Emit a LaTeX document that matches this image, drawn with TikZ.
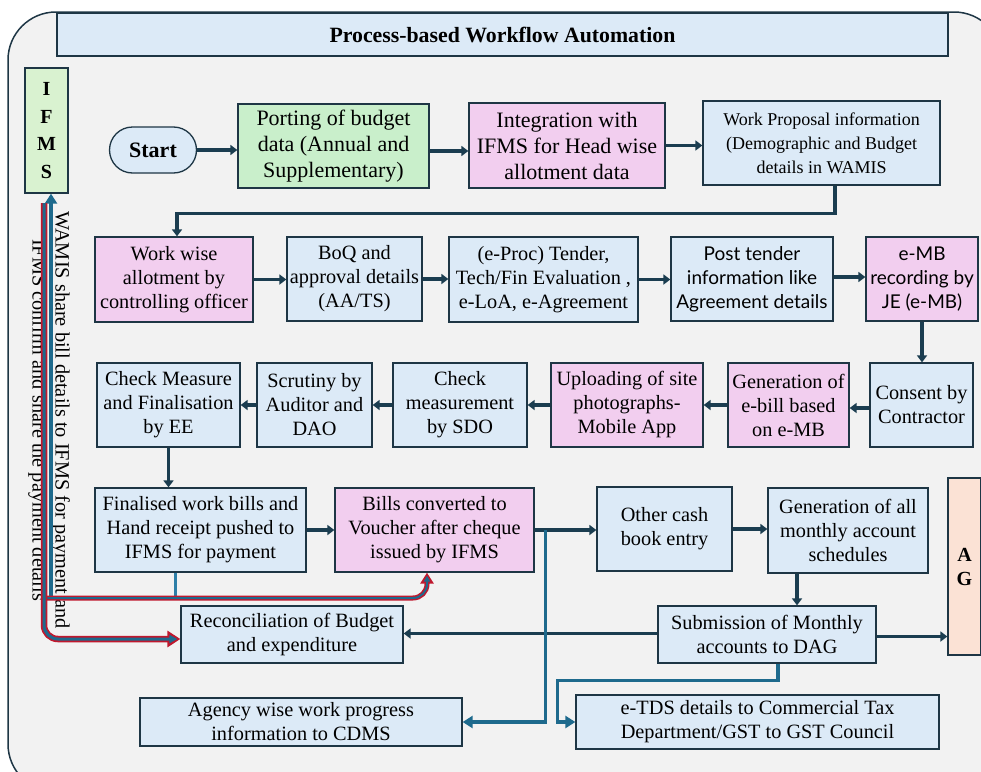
\documentclass[tikz,border=0pt]{standalone}
\usepackage{fontspec}
\setmainfont{Liberation Serif}
\newfontfamily\aptosfont{Lato}
\usetikzlibrary{arrows.meta}

\definecolor{framegray}{HTML}{F2F2F2}
\definecolor{boxblue}{HTML}{DCEAF7}
\definecolor{boxpink}{HTML}{F2CEEF}
\definecolor{boxgreen}{HTML}{C9EFCB}
\definecolor{ifmsgreen}{HTML}{D9F2D0}
\definecolor{agpeach}{HTML}{FBE2D5}
\definecolor{edgenavy}{HTML}{1E3645}
\definecolor{flowdark}{HTML}{1B3D50}
\definecolor{flowblue}{HTML}{1E6A8D}
\definecolor{flowlight}{HTML}{2E7FA8}
\definecolor{flowred}{HTML}{C0182E}

\tikzset{
  proc/.style={draw=edgenavy, line width=1.3pt, fill=boxblue, align=center,
    inner sep=2pt, font=\fontsize{20.3}{24}\selectfont},
  procpink/.style={proc, fill=boxpink},
  procgreen/.style={proc, fill=boxgreen},
  procsans/.style={font=\aptosfont\fontsize{19}{24}\selectfont},
  bigtext/.style={font=\fontsize{22}{26}\selectfont},
  sidebox/.style={draw=edgenavy, line width=1.3pt, align=center, inner sep=0pt},
  flow/.style={draw=flowdark, line width=3.5pt, -{Triangle[length=7pt,width=10pt]}},
  blueflow/.style={draw=flowblue, line width=3.5pt, -{Triangle[length=10pt,width=12pt]}},
  redout/.style={draw=flowred, line width=6.5pt, rounded corners=14pt,
    -{Triangle[length=13pt,width=16pt]}},
  bluein/.style={draw=flowblue, line width=3pt, rounded corners=14pt,
    -{Triangle[length=8pt,width=8pt]}, shorten >=3pt},
}

\begin{document}
\begin{tikzpicture}[x=1pt,y=-1pt]
\useasboundingbox (0,0) rectangle (981,771);
\fill[white] (0,0) rectangle (981,771);
% outer frame
\draw[fill=framegray, draw=edgenavy, line width=1.5pt, rounded corners=48pt]
  (8,12) rectangle (1002,792);

\node[proc, minimum width=891pt, minimum height=43pt,
  font=\fontsize{21.8}{26}\selectfont\bfseries] (title) at (502.5,34.5)
  {Process-based Workflow Automation};

% side systems
\node[sidebox, fill=ifmsgreen, minimum width=43pt, minimum height=125pt,
  font=\fontsize{20}{27.5}\selectfont\bfseries] (ifms) at (46.5,130.5) {I\\F\\M\\S};
\node[sidebox, fill=agpeach, minimum width=33pt, minimum height=177pt,
  font=\fontsize{20}{24}\selectfont\bfseries] (ag) at (964.5,566.5) {A\\G};

% first row
\node[proc, rounded corners=23pt, minimum width=87pt, minimum height=46pt,
  font=\fontsize{22}{26}\selectfont\bfseries] (start) at (153,150) {Start};
\node[procgreen, bigtext, minimum width=191pt, minimum height=84pt] (port) at (333.5,146)
  {Porting of budget\\data (Annual and\\Supplementary)};
\node[procpink, bigtext, minimum width=196pt, minimum height=85pt] (integ) at (567,145.5)
  {Integration with\\IFMS for Head wise\\allotment data};
\node[proc, minimum width=237pt, minimum height=84pt,
  font=\fontsize{18}{24}\selectfont] (propo) at (821.5,143)
  {Work Proposal information\\(Demographic and Budget\\details in WAMIS};

% second row
\node[procpink, minimum width=158pt, minimum height=85pt] (allot) at (174,279.5)
  {Work wise\\allotment by\\controlling officer};
\node[proc, minimum width=135pt, minimum height=84pt] (boq) at (354.5,279)
  {BoQ and\\approval details\\(AA/TS)};
\node[proc, minimum width=189pt, minimum height=85pt] (eproc) at (543.5,279.5)
  {(e-Proc) Tender,\\Tech/Fin Evaluation ,\\e-LoA, e-Agreement};
\node[proc, procsans, minimum width=162pt, minimum height=84pt] (postt) at (752,279)
  {Post tender\\information like\\Agreement details};
\node[procpink, procsans, minimum width=112pt, minimum height=84pt] (emb) at (922,279)
  {e-MB\\recording by\\JE (e-MB)};

% third row
\node[proc, minimum width=143pt, minimum height=84pt] (chkee) at (168.5,405)
  {Check Measure\\and Finalisation\\by EE};
\node[proc, minimum width=115pt, minimum height=84pt] (scrut) at (314.5,405)
  {Scrutiny by\\Auditor and\\DAO};
\node[proc, minimum width=134pt, minimum height=84pt] (chksdo) at (460,405)
  {Check\\measurement\\by SDO};
\node[procpink, minimum width=152pt, minimum height=84pt] (upload) at (627,405)
  {Uploading of site\\photographs-\\Mobile App};
\node[procpink, minimum width=121pt, minimum height=84pt] (ebill) at (788.5,405)
  {Generation of\\e-bill based\\on e-MB};
\node[proc, minimum width=103pt, minimum height=84pt] (consent) at (921.5,405)
  {Consent by\\Contractor};

% fourth row
\node[proc, minimum width=211pt, minimum height=84pt] (final) at (200.5,530)
  {Finalised work bills and\\Hand receipt pushed to\\IFMS for payment};
\node[procpink, minimum width=199pt, minimum height=84pt] (bills) at (434.5,530)
  {Bills converted to\\Voucher after cheque\\issued by IFMS};
\node[proc, minimum width=135pt, minimum height=84pt] (cash) at (664.5,529)
  {Other cash\\book entry};
\node[proc, minimum width=160pt, minimum height=85pt] (sched) at (848,530.5)
  {Generation of all\\monthly account\\schedules};

% bottom rows
\node[proc, minimum width=218pt, minimum height=57pt] (submit) at (767,634.5)
  {Submission of Monthly\\accounts to DAG};
\node[proc, minimum width=222pt, minimum height=57pt] (recon) at (292,634.5)
  {Reconciliation of Budget\\and expenditure};
\node[proc, minimum width=322pt, minimum height=48pt] (agency) at (301,722)
  {Agency wise work progress\\information to CDMS};
\node[proc, minimum width=363pt, minimum height=54pt] (etds) at (757.5,722)
  {e-TDS details to Commercial Tax\\Department/GST to GST Council};

% side note
\node[rotate=-90, align=center, font=\fontsize{20.3}{23}\selectfont] (note) at (49,420)
  {WAMIS share bill details to IFMS for payment and\\IFMS confirm and share the payment details};

% main flow
\draw[flow] (start.east) -- (start.east -| port.west);
\draw[flow] ([yshift=-5pt]port.east) -- ([yshift=-5pt]port.east -| integ.west);
\draw[flow] (integ.east) -- (integ.east -| propo.west);
\draw[flow] ([xshift=13.5pt]propo.south) -- ++(0,28) -| ([xshift=3pt]allot.north);
\draw[flow] (allot.east) -- (allot.east -| boq.west);
\draw[flow] (boq.east) -- (boq.east -| eproc.west);
\draw[flow] (eproc.east) -- (eproc.east -| postt.west);
\draw[flow] ([yshift=2pt]postt.east) -- ([yshift=2pt]postt.east -| emb.west);
\draw[flow] (emb.south) -- (emb.south |- consent.north);
\draw[flow] ([yshift=-3pt]consent.west) -- ([yshift=-3pt]consent.west -| ebill.east);
\draw[flow] (ebill.west) -- (ebill.west -| upload.east);
\draw[flow] (upload.west) -- (upload.west -| chksdo.east);
\draw[flow] (chksdo.west) -- (chksdo.west -| scrut.east);
\draw[flow] (scrut.west) -- (scrut.west -| chkee.east);
\draw[flow] (chkee.south) -- (chkee.south |- final.north);
\draw[flow] (final.east) -- (final.east -| bills.west);
\draw[flow] (bills.east) -- (bills.east -| cash.west);
\draw[flow] (cash.east) -- (cash.east -| sched.west);
\draw[flow] ([xshift=-51pt]sched.south) -- ([xshift=-51pt]sched.south |- submit.north);
\draw[flow] ([yshift=-2pt]submit.east) -- ([yshift=-2pt]submit.east -| ag.west);
\draw[flow] ([yshift=1pt]submit.west) -- ([yshift=1pt]submit.west -| recon.east);

% blue branches
\draw[blueflow] ([xshift=11pt]bills.east) |- (agency.east);
\draw[blueflow] ([xshift=11pt]submit.south) -- ++(0,17) -| ([xshift=-18pt]etds.west) -- (etds.west);
\draw[draw=flowlight, line width=3.5pt] ([xshift=-25pt]final.south) -- ++(0,26);

% IFMS exchange
\coordinate (conf) at (51,597);
\coordinate (wamis) at (44,203);
\coordinate (pay) at (44,598);
\draw[blueflow] (conf) -- (conf |- ifms.south);
\draw[redout, line width=5pt, -{Triangle[length=11pt,width=13pt]}] (pay) -| ([xshift=-7.5pt]bills.south);
\draw[bluein, line width=2pt, -{Triangle[length=6pt,width=6pt]}] (pay) -| ([xshift=-7.5pt]bills.south);
\draw[redout] (wamis) |- ([yshift=-4.5pt]recon.west);
\draw[bluein] (wamis) |- ([yshift=-4.5pt]recon.west);
\end{tikzpicture}
\end{document}
